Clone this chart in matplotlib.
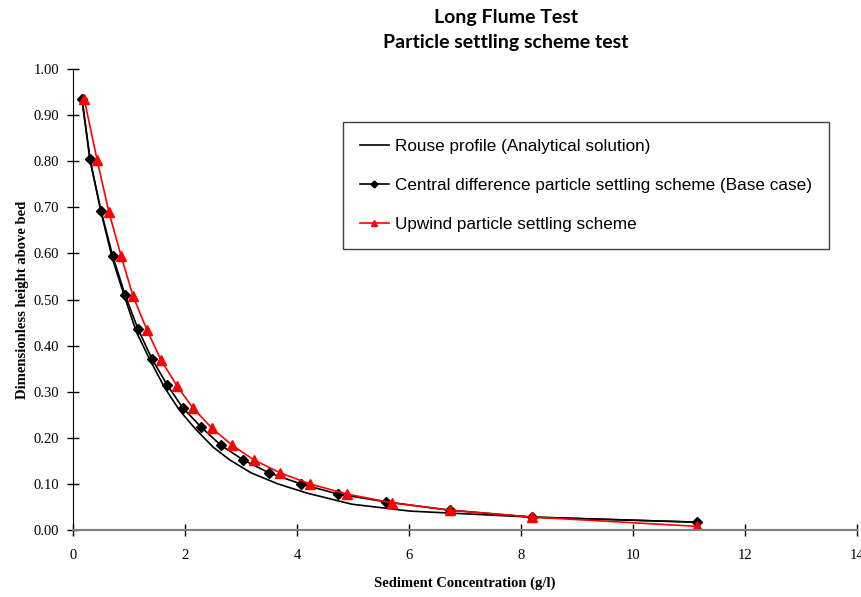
import matplotlib.pyplot as plt
import numpy as np

# Rouse profile (analytical)
rouse_c = [0.16, 0.31, 0.50, 0.70, 0.91, 1.13, 1.37, 1.63, 1.90, 2.18, 2.50, 2.80,
           3.18, 3.66, 4.18, 4.98, 6.02, 8.20, 11.14]
rouse_z = [0.935, 0.80, 0.69, 0.59, 0.51, 0.43, 0.37, 0.31, 0.26, 0.22, 0.18, 0.152,
           0.124, 0.10, 0.080, 0.056, 0.041, 0.028, 0.017]

# central difference scheme (base case)
cd_c = [0.16, 0.30, 0.50, 0.71, 0.93, 1.16, 1.41, 1.68, 1.96, 2.29, 2.64, 3.04,
        3.50, 4.07, 4.73, 5.59, 6.73, 8.20, 11.14]
cd_z = [0.935, 0.805, 0.692, 0.594, 0.510, 0.436, 0.371, 0.315, 0.265, 0.223, 0.184,
        0.152, 0.124, 0.100, 0.078, 0.061, 0.043, 0.028, 0.017]

# upwind scheme
up_c = [0.20, 0.43, 0.64, 0.86, 1.07, 1.32, 1.57, 1.86, 2.14, 2.48, 2.84, 3.23,
        3.70, 4.23, 4.89, 5.70, 6.73, 8.20, 11.14]
up_z = [0.935, 0.803, 0.690, 0.594, 0.508, 0.434, 0.369, 0.312, 0.265, 0.221, 0.184,
        0.152, 0.124, 0.100, 0.078, 0.059, 0.043, 0.028, 0.008]

fig = plt.figure(figsize=(8.62, 5.97), dpi=100)
ax = fig.add_axes([0.0847, 0.1122, 0.9095, 0.7722])

ax.plot(rouse_c, rouse_z, color='black', lw=1.2, label='Rouse profile (Analytical solution)')
ax.plot(cd_c, cd_z, color='black', lw=1.2, marker='D', markersize=5,
        label='Central difference particle settling scheme (Base case)')
ax.plot(up_c, up_z, color='red', lw=1.2, marker='^', markersize=7,
        label='Upwind particle settling scheme')

ax.set_xlim(0, 14)
ax.set_ylim(0, 1.0)
ax.set_xticks(np.arange(0, 15, 2))
ax.set_yticks(np.arange(0, 1.01, 0.1))
ax.set_yticklabels(['%.2f' % v for v in np.arange(0, 1.01, 0.1)])

for s in ['top', 'right']:
    ax.spines[s].set_visible(False)
ax.spines['left'].set_color('black')
ax.spines['bottom'].set_color('#808080')
ax.spines['bottom'].set_linewidth(1.5)
ax.tick_params(direction='inout', length=8, width=1, labelsize=10.5, pad=6)
for lab in ax.get_xticklabels() + ax.get_yticklabels():
    lab.set_family('Liberation Serif')
ax.tick_params(axis='x', pad=10)

ax.set_xlabel('Sediment Concentration (g/l)', family='Liberation Serif',
              fontweight='bold', fontsize=10.5, labelpad=10)
ax.set_ylabel('Dimensionless height above bed', family='Liberation Serif',
              fontweight='bold', fontsize=10.5, labelpad=3)

fig.text(0.587, 0.971, 'Long Flume Test', ha='center', va='center',
         family='Lato', fontweight='bold', fontsize=14)
fig.text(0.587, 0.928, 'Particle settling scheme test', ha='center', va='center',
         family='Lato', fontweight='bold', fontsize=14)

leg = ax.legend(loc='upper left', bbox_to_anchor=(0.344, 0.607, 0.62, 0.278),
                mode='expand', fancybox=False, edgecolor='#404040', framealpha=1,
                prop={'family': 'Liberation Sans', 'size': 12.3},
                handlelength=1.7, handletextpad=0.35, labelspacing=1.4,
                borderpad=1.0, borderaxespad=0, markerscale=0.7)
leg.get_frame().set_linewidth(1.0)

fig.savefig('out.png', dpi=100)
